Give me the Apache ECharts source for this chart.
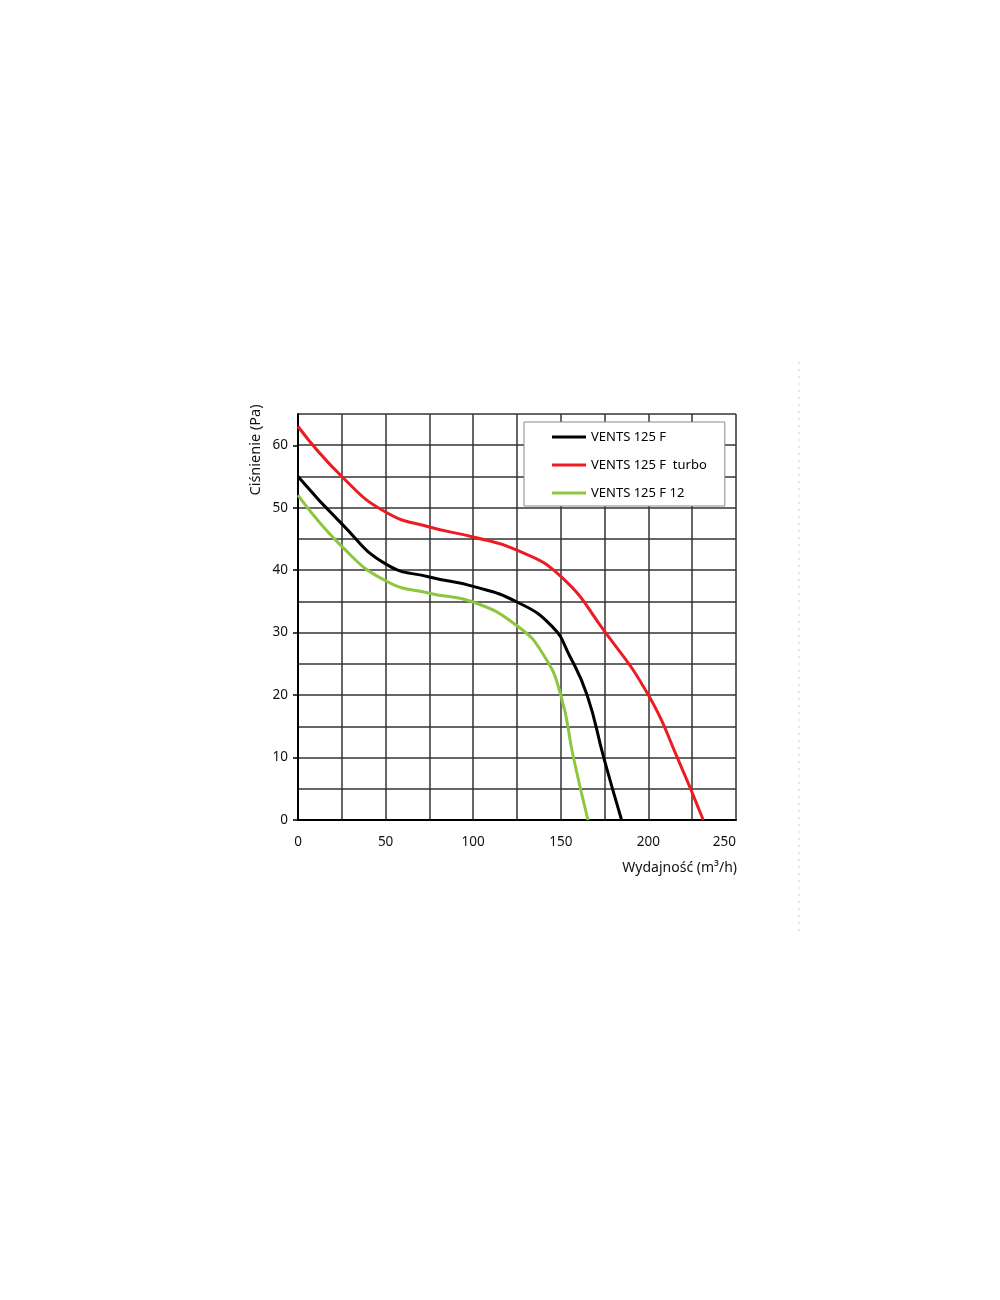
<!DOCTYPE html>
<html><head><meta charset="utf-8">
<script src="https://cdn.jsdelivr.net/npm/echarts@6/dist/echarts.min.js"></script>
<style>html,body{margin:0;padding:0;background:#fff}#c{width:1000px;height:1300px}</style>
</head><body><div id="c"></div>
<script>
const seriesNames = ['VENTS 125 F', 'VENTS 125 F  turbo', 'VENTS 125 F 12'];
const ventsF = [[0,55],[25,47.4],[50,41],[75,38.9],[100,37.4],[125,34.9],[145,31],[155,26.3],[165,20],[174.5,10],[184.7,0]];
const ventsTurbo = [[0,63],[25,55],[50,49.3],[75,46.9],[100,45.3],[125,43.2],[150,39],[175,30.2],[200,20],[216.5,10],[231.3,0]];
const vents12 = [[0,52],[25,43.8],[50,38.3],[75,36.3],[100,34.9],[125,31.1],[140,26.5],[150,20],[157.2,10],[165.5,0]];
const xTicks = [0, 50, 100, 150, 200, 250];
const yTicks = [0, 10, 20, 30, 40, 50, 60];
const colors = ['#000000', '#ed1c24', '#8dc63f'];

const font = 'Noto Sans';
const chart = echarts.init(document.getElementById('c'), null, {renderer: 'canvas'});
const gridLine = {show: true, lineStyle: {color: '#333', width: 1.5}};
chart.setOption({
  animation: false,
  backgroundColor: '#fff',
  grid: [
    {left: 298, top: 414, width: 438, height: 406, containLabel: false},
    {left: 298, top: 445.25, width: 438, height: 374.75, containLabel: false}
  ],
  xAxis: [
    {type: 'value', gridIndex: 0, min: 0, max: 250, interval: 25,
     axisLine: {show: true, onZero: false, lineStyle: {color: '#000', width: 2}},
     axisTick: {show: false},
     splitLine: gridLine,
     axisLabel: {margin: 15, color: '#111', fontFamily: font, fontSize: 13.5, alignMaxLabel: 'right',
       formatter: v => xTicks.includes(v) ? String(v) : ''}},
    {type: 'value', gridIndex: 1, min: 0, max: 250, show: false}
  ],
  yAxis: [
    {type: 'value', gridIndex: 0, min: 0, max: 65, interval: 5,
     axisLine: {show: true, onZero: false, lineStyle: {color: '#000', width: 2}},
     axisTick: {show: false},
     splitLine: gridLine,
     axisLabel: {margin: 10, color: '#111', fontFamily: font, fontSize: 13.5,
       formatter: v => yTicks.includes(v) ? String(v) : ''}},
    {type: 'value', gridIndex: 1, min: 0, max: 60, interval: 10,
     axisLine: {show: false}, splitLine: {show: false}, axisLabel: {show: false},
     axisTick: {show: true, length: 5, lineStyle: {color: '#000', width: 1.5}}}
  ],
  legend: {
    left: 524, top: 422, orient: 'vertical',
    padding: [8, 18, 6, 28], itemGap: 14,
    itemWidth: 34, itemHeight: 3, icon: 'rect',
    backgroundColor: '#fff', borderColor: '#888', borderWidth: 1,
    textStyle: {fontFamily: font, fontSize: 13, color: '#000', lineHeight: 14},
    data: seriesNames
  },
  series: [
    {name: seriesNames[0], type: 'line', data: ventsF},
    {name: seriesNames[1], type: 'line', data: ventsTurbo},
    {name: seriesNames[2], type: 'line', data: vents12}
  ].map((s, i) => Object.assign(s, {
    xAxisIndex: 0, yAxisIndex: 0, smooth: 0.5, showSymbol: false,
    lineStyle: {color: colors[i], width: 3}, itemStyle: {color: colors[i]}, z: 5
  })),
  graphic: [
    {type: 'text', x: 256, y: 450, rotation: Math.PI / 2,
     style: {text: 'Ciśnienie (Pa)', fontFamily: font, fontSize: 14.5, fill: '#111', align: 'center', verticalAlign: 'middle'}},
    {type: 'text', x: 737, y: 868,
     style: {text: 'Wydajność (m³/h)', fontFamily: font, fontSize: 14, fill: '#111', align: 'right', verticalAlign: 'middle'}},
    {type: 'line', shape: {x1: 799, y1: 362, x2: 799, y2: 932},
     style: {stroke: '#c8c8d8', lineWidth: 1, lineDash: [2, 5]}}
  ]
});
</script></body></html>
